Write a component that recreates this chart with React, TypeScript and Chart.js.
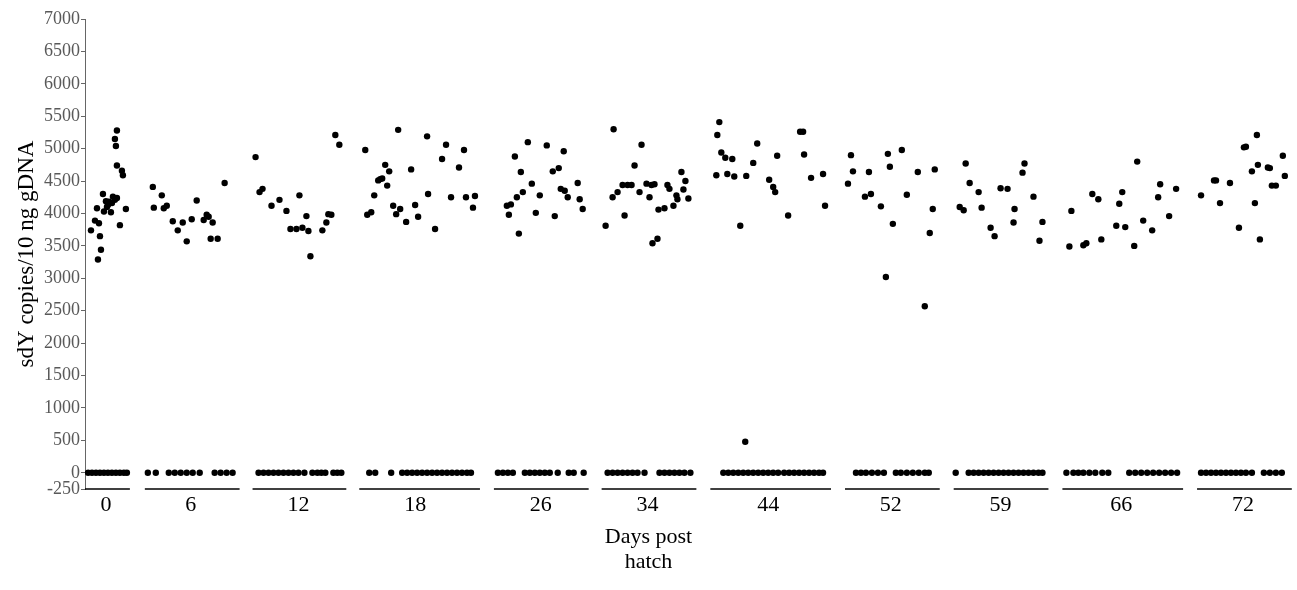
import React, { useEffect, useRef } from 'react';
import { Chart, registerables } from 'chart.js';

Chart.register(...registerables);

// ---- axis / group definitions ----
const groupDays = ['0', '6', '12', '18', '26', '34', '44', '52', '59', '66', '72'];
const groupTickPos = [21, 106, 214, 331, 457, 564, 685, 808, 918, 1039, 1161];
const groupSpanStart = [0, 60, 168, 275, 410, 518, 627, 762, 871, 980, 1115];
const groupSpanEnd = [45, 155, 262, 396, 505, 613, 748, 857, 966, 1101, 1210];
const yTickValues = [-250, 0, 500, 1000, 1500, 2000, 2500, 3000, 3500, 4000, 4500, 5000, 5500, 6000, 6500, 7000];
const yTitle = 'sdY copies/10 ng gDNA';
const xTitleLines = ['Days post', 'hatch'];

// ---- data: [position, sdY copies] for positive samples; positions of zero samples ----
const day0 = [[6,3740],[10,3890],[14,3850],[12,4080],[15,3650],[16,3440],[13,3290],[18,4300],[19,4030],[21,4190],[24,4180],[27,4160],[23,4130],[22,4100],[28,4260],[26,4020],[30,4210],[32,4240],[32,5280],[30,5150],[31,5040],[32,4740],[37,4660],[38,4590],[35,3820],[41,4070]];
const day0Zero = [3,7,11,15,19,23,27,31,35,39,42];

const day6 = [[68,4410],[69,4090],[77,4280],[79,4080],[82,4120],[88,3880],[93,3740],[98,3860],[102,3570],[107,3910],[112,4200],[119,3900],[122,3980],[124,3950],[128,3860],[126,3610],[133,3610],[140,4470]];
const day6Zero = [63,71,84,90,96,102,108,115,130,136,142,148];

const day12 = [[171,4870],[175,4330],[178,4380],[187,4120],[195,4210],[202,4040],[206,3760],[212,3760],[215,4280],[218,3780],[222,3960],[224,3730],[226,3340],[238,3740],[242,3860],[244,3990],[247,3980],[251,5210],[255,5060]];
const day12Zero = [174,179,184,189,194,199,204,209,214,220,228,233,237,241,249,253,257];

const day18 = [[281,4980],[283,3980],[287,4020],[290,4280],[294,4510],[296,4530],[298,4540],[301,4750],[305,4650],[303,4430],[309,4120],[312,3990],[316,4070],[314,5290],[322,3870],[327,4680],[331,4130],[334,3950],[343,5190],[344,4300],[351,3760],[358,4840],[362,5060],[367,4250],[375,4710],[380,4980],[382,4250],[389,4090],[391,4270]];
const day18Zero = [285,291,307,318,323,328,333,338,343,348,353,358,363,368,373,378,383,387];

const day26 = [[423,4120],[427,4140],[425,3980],[431,4880],[433,4250],[435,3690],[437,4640],[439,4330],[444,5100],[448,4460],[452,4010],[456,4280],[463,5050],[469,4650],[471,3960],[475,4700],[477,4380],[481,4350],[480,4960],[484,4250],[494,4470],[496,4220],[499,4070]];
const day26Zero = [414,419,424,429,441,446,451,456,461,466,474,485,490,500];

const day34 = [[522,3810],[529,4250],[530,5300],[534,4330],[539,4440],[544,4440],[548,4440],[541,3970],[551,4740],[556,4330],[558,5060],[563,4460],[568,4440],[571,4450],[566,4250],[569,3540],[574,3610],[575,4060],[581,4080],[584,4440],[586,4380],[590,4120],[593,4280],[594,4220],[598,4640],[602,4500],[600,4370],[605,4230]];
const day34Zero = [524,529,534,539,544,549,554,561,576,581,586,591,596,601,607];

const day44 = [[633,4590],[634,5210],[636,5410],[638,4940],[642,4860],[649,4840],[644,4610],[651,4570],[657,3810],[663,4580],[670,4780],[674,5080],[686,4520],[690,4410],[692,4330],[694,4890],[705,3970],[717,5260],[720,5260],[721,4910],[728,4550],[740,4610],[742,4120],[662,480]];
const day44Zero = [640,645,650,655,660,665,670,675,680,685,690,695,701,706,711,716,721,726,731,736,740];

const day52 = [[765,4460],[768,4900],[770,4650],[782,4260],[788,4300],[786,4640],[798,4110],[803,3020],[805,4920],[807,4720],[810,3840],[819,4980],[824,4290],[835,4640],[842,2570],[847,3700],[850,4070],[852,4680]];
const day52Zero = [773,778,783,789,795,801,813,818,824,830,836,842,846];

const day59 = [[877,4100],[881,4050],[883,4770],[887,4470],[896,4330],[899,4090],[908,3780],[912,3650],[918,4390],[925,4380],[931,3860],[932,4070],[940,4630],[942,4770],[951,4260],[957,3580],[960,3870]];
const day59Zero = [873,886,891,896,901,906,911,916,921,926,931,936,941,946,951,956,960];

const day66 = [[987,3490],[989,4040],[1001,3510],[1004,3540],[1010,4300],[1016,4220],[1019,3600],[1034,3810],[1037,4150],[1040,4330],[1043,3790],[1052,3500],[1055,4800],[1061,3890],[1070,3740],[1076,4250],[1078,4450],[1087,3960],[1094,4380]];
const day66Zero = [984,991,996,1001,1007,1013,1020,1026,1047,1053,1059,1065,1071,1077,1083,1089,1095];

const day72 = [[1119,4280],[1132,4510],[1134,4510],[1138,4160],[1148,4470],[1157,3780],[1162,5020],[1164,5030],[1170,4650],[1173,4160],[1175,5210],[1176,4750],[1178,3600],[1186,4710],[1188,4700],[1190,4430],[1194,4430],[1201,4890],[1203,4580]];
const day72Zero = [1119,1124,1129,1134,1139,1144,1149,1154,1159,1164,1170,1182,1188,1194,1200];

const positiveSets = [day0, day6, day12, day18, day26, day34, day44, day52, day59, day66, day72];
const zeroSets = [day0Zero, day6Zero, day12Zero, day18Zero, day26Zero, day34Zero, day44Zero, day52Zero, day59Zero, day66Zero, day72Zero];

const X_MIN = 0;
const X_MAX = 1212;
const Y_MIN = -250;
const Y_MAX = 7000;
const FONT = '"Liberation Serif", "Times New Roman", serif';

const axisDecor = {
  id: 'axisDecor',
  afterDraw(chart: any) {
    const { ctx } = chart;
    const xs = chart.scales.x;
    const ys = chart.scales.y;
    const yPix = ys.getPixelForValue(Y_MIN);
    ctx.save();
    ctx.strokeStyle = '#000';
    ctx.lineWidth = 1.3;
    groupSpanStart.forEach((s, i) => {
      ctx.beginPath();
      ctx.moveTo(xs.getPixelForValue(s), yPix);
      ctx.lineTo(xs.getPixelForValue(groupSpanEnd[i]), yPix);
      ctx.stroke();
    });
    ctx.fillStyle = '#000';
    ctx.font = `22px ${FONT}`;
    ctx.textAlign = 'center';
    ctx.textBaseline = 'alphabetic';
    const cx = chart.width / 2;
    xTitleLines.forEach((t, i) => {
      ctx.fillText(t, cx, xs.bottom - 47 + i * 25);
    });
    ctx.restore();
  },
};

export default function App() {
  const ref = useRef<HTMLCanvasElement>(null);

  useEffect(() => {
    const points: { x: number; y: number }[] = [];
    positiveSets.forEach((set) => set.forEach(([x, y]) => points.push({ x, y })));
    zeroSets.forEach((set) => set.forEach((x) => points.push({ x, y: 0 })));

    const chart = new Chart(ref.current as HTMLCanvasElement, {
      type: 'scatter',
      data: {
        datasets: [
          {
            data: points,
            pointRadius: 3.2,
            pointHoverRadius: 3.2,
            pointBackgroundColor: '#000',
            pointBorderWidth: 0,
            borderColor: '#000',
          },
        ],
      },
      options: {
        animation: false,
        responsive: true,
        maintainAspectRatio: false,
        layout: { padding: { top: 19, right: 0, bottom: 0, left: 0 } },
        plugins: { legend: { display: false }, tooltip: { enabled: false } },
        scales: {
          x: {
            type: 'linear',
            min: X_MIN,
            max: X_MAX,
            grid: { display: false, drawTicks: false },
            border: { display: false },
            afterBuildTicks: (scale: any) => {
              scale.ticks = groupTickPos.map((v) => ({ value: v }));
            },
            afterFit: (scale: any) => {
              scale.height = 101;
            },
            ticks: {
              autoSkip: false,
              maxRotation: 0,
              padding: 3,
              color: '#000',
              font: { family: FONT, size: 22 },
              callback: (value: any) => {
                const idx = groupTickPos.indexOf(Number(value));
                return idx >= 0 ? groupDays[idx] : '';
              },
            },
          },
          y: {
            type: 'linear',
            min: Y_MIN,
            max: Y_MAX,
            afterBuildTicks: (scale: any) => {
              scale.ticks = yTickValues.map((v) => ({ value: v }));
            },
            afterFit: (scale: any) => {
              scale.width = 85;
            },
            grid: {
              display: true,
              drawOnChartArea: false,
              drawTicks: true,
              tickLength: 4,
              color: '#666',
            },
            border: { display: true, color: '#666', width: 1 },
            ticks: {
              autoSkip: false,
              padding: 1,
              color: '#595959',
              font: { family: FONT, size: 18 },
              callback: (value: any) => String(value),
            },
            title: {
              display: true,
              text: yTitle,
              color: '#000',
              font: { family: FONT, size: 23 },
              padding: { top: 13, bottom: 0 },
            },
          },
        },
      },
      plugins: [axisDecor],
    });
    return () => chart.destroy();
  }, []);

  return (
    <div style={{ position: 'fixed', left: 0, top: 0, width: 1297, height: 590, background: '#fff' }}>
      <canvas ref={ref} />
    </div>
  );
}
